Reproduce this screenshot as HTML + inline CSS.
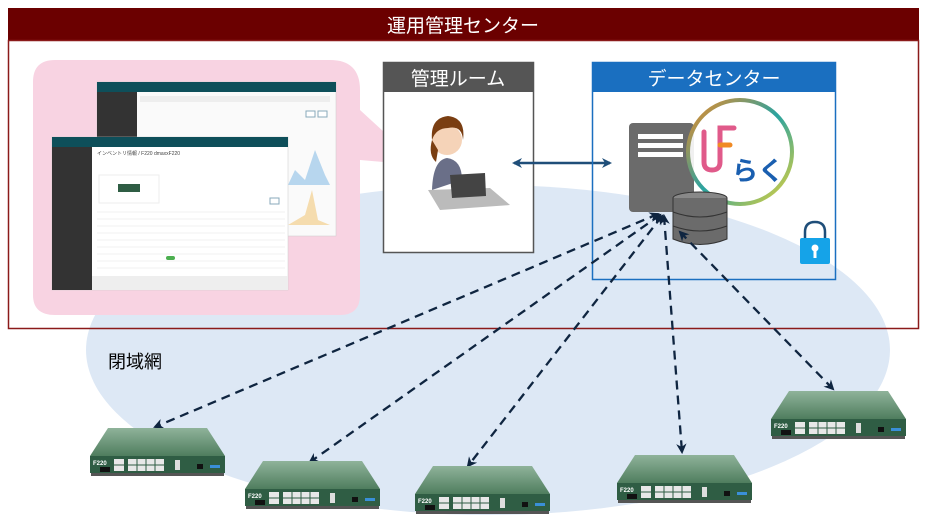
<!DOCTYPE html>
<html><head><meta charset="utf-8"><style>
html,body{margin:0;padding:0;background:#fff}
svg{display:block}
text{font-family:"Liberation Sans","Noto Sans CJK JP",sans-serif}
</style></head><body>
<svg width="930" height="527" viewBox="0 0 930 527" xmlns="http://www.w3.org/2000/svg">
<defs>
<marker id="ah" viewBox="0 0 10 10" refX="8" refY="5" markerWidth="4.5" markerHeight="4.5" orient="auto-start-reverse"><path d="M0,0 L10,5 L0,10 L3,5 z" fill="#0f2540"/></marker>
<marker id="ab" viewBox="0 0 10 10" refX="8" refY="5" markerWidth="4" markerHeight="4" orient="auto-start-reverse"><path d="M0,0 L10,5 L0,10 L3,5 z" fill="#1f4e79"/></marker>
<linearGradient id="rg" x1="0" y1="0" x2="0" y2="1"><stop offset="0" stop-color="#8fb39a"/><stop offset="1" stop-color="#4f7d5e"/></linearGradient>
<linearGradient id="ring" x1="0" y1="0" x2="1" y2="1"><stop offset="0" stop-color="#f08a24"/><stop offset="0.5" stop-color="#2aa3a0"/><stop offset="1" stop-color="#e6d23a"/></linearGradient>
<g id="router">
<polygon points="18,0 117,0 135,28 0,28" fill="url(#rg)"/>
<rect x="0" y="28" width="135" height="17" fill="#2f5d44"/>
<rect x="1" y="45" width="133" height="3" fill="#555"/>
<text x="3" y="37" font-size="6" fill="#fff" font-weight="bold">F220</text>
<rect x="24" y="31" width="10" height="12" fill="#e8e8e8"/>
<rect x="38" y="31" width="36" height="12" fill="#e8e8e8"/>
<g stroke="#2f5d44" stroke-width="1"><line x1="38" y1="37" x2="74" y2="37"/><line x1="47" y1="31" x2="47" y2="43"/><line x1="56" y1="31" x2="56" y2="43"/><line x1="65" y1="31" x2="65" y2="43"/><line x1="24" y1="37" x2="34" y2="37"/></g>
<rect x="10" y="39" width="10" height="5" fill="#111"/>
<rect x="85" y="32" width="5" height="10" fill="#ddd"/>
<rect x="107" y="36" width="6" height="5" fill="#111"/>
<rect x="120" y="37" width="10" height="3" fill="#3a8fd8"/>
</g>
</defs>
<ellipse cx="488" cy="350" rx="402" ry="165" fill="#dde8f5"/>
<rect x="8" y="8" width="911" height="32" fill="#6b0000"/>
<text x="463" y="32" font-size="19" fill="#fff" text-anchor="middle">運用管理センター</text>
<rect x="8.5" y="40.5" width="910" height="288" fill="none" stroke="#8b1a1a" stroke-width="1.5"/>
<path d="M55,60 H330 Q360,60 360,90 V110 L420,165 L360,160 V295 Q360,315 340,315 H55 Q33,315 33,295 V82 Q33,60 55,60 Z" fill="#f8d3e2"/>
<rect x="97" y="82" width="239" height="154" fill="#fafafa" stroke="#ccc" stroke-width="0.5"/>
<rect x="97" y="82" width="239" height="10" fill="#0e4f5a"/>
<rect x="97" y="92" width="40" height="90" fill="#333"/>
<rect x="140" y="96" width="190" height="6" fill="#eee"/>
<rect x="306" y="111" width="9" height="6" fill="#fff" stroke="#8ab"/><rect x="318" y="111" width="9" height="6" fill="#fff" stroke="#8ab"/>
<path d="M288,185 L295,170 L305,180 L315,150 L325,175 L330,185 Z" fill="#b7d6ee"/>
<path d="M288,225 L305,215 L312,190 L318,220 L330,225 Z" fill="#f5dcae"/>
<rect x="52" y="137" width="236" height="153" fill="#fff" stroke="#ccc" stroke-width="0.5"/>
<rect x="52" y="137" width="236" height="10" fill="#0e4f5a"/>
<rect x="52" y="147" width="40" height="143" fill="#333"/>
<rect x="92" y="276" width="196" height="14" fill="#eee"/>
<text x="97" y="155" font-size="5" fill="#444">インベントリ情報 / F220 dmaxxF220</text>
<rect x="99" y="175" width="60" height="28" fill="#fff" stroke="#eee"/>
<rect x="118" y="184" width="22" height="8" fill="#2f5d44"/>
<rect x="270" y="198" width="9" height="6" fill="#fff" stroke="#8ab"/>
<g stroke="#eee" stroke-width="0.7"><line x1="97" y1="212" x2="285" y2="212"/><line x1="97" y1="219" x2="285" y2="219"/><line x1="97" y1="226" x2="285" y2="226"/><line x1="97" y1="233" x2="285" y2="233"/><line x1="97" y1="240" x2="285" y2="240"/><line x1="97" y1="247" x2="285" y2="247"/><line x1="97" y1="254" x2="285" y2="254"/><line x1="97" y1="261" x2="285" y2="261"/><line x1="97" y1="268" x2="285" y2="268"/></g>
<rect x="166" y="256" width="9" height="4" rx="2" fill="#4caf50"/>
<rect x="383.5" y="62.5" width="150" height="190" fill="#fff" stroke="#555" stroke-width="1.5"/>
<rect x="383" y="62" width="151" height="30" fill="#555"/>
<text x="458" y="85" font-size="19" fill="#fff" text-anchor="middle">管理ルーム</text>
<circle cx="447" cy="140" r="15" fill="#f5d3b8"/>
<path d="M432,140 Q430,118 448,116 Q466,118 463,140 Q462,125 448,128 Q436,128 432,140 Z" fill="#7a3e12"/>
<path d="M432,140 Q428,155 436,162 L438,150 Z" fill="#7a3e12"/>
<path d="M432,190 Q433,160 447,158 Q462,160 462,180 Z" fill="#6a6f88"/>
<polygon points="428,190 490,188 510,205 440,210" fill="#bbb"/>
<polygon points="450,175 485,173 486,196 452,198" fill="#444"/>
<line x1="514" y1="163" x2="610" y2="163" stroke="#1f4e79" stroke-width="2.5" marker-start="url(#ab)" marker-end="url(#ab)"/>
<rect x="592.5" y="62.5" width="243" height="217" fill="none" stroke="#1a6fc0" stroke-width="1.5"/>
<rect x="592" y="62" width="244" height="30" fill="#1a6fc0"/>
<text x="714" y="85" font-size="19" fill="#fff" text-anchor="middle">データセンター</text>
<rect x="629" y="123" width="65" height="89" rx="4" fill="#6b6b6b"/>
<rect x="638" y="134" width="45" height="5" fill="#fff"/><rect x="638" y="143" width="45" height="5" fill="#fff"/><rect x="638" y="152" width="45" height="5" fill="#fff"/>
<circle cx="740" cy="152" r="52" fill="#fff" fill-opacity="0.9" stroke="url(#ring)" stroke-width="4"/>
<path d="M704,132 V162 Q704,170 712,170 Q720,170 720,162 V128 H734" fill="none" stroke="#e05a8a" stroke-width="5" stroke-linecap="round"/>
<path d="M720,145 H730" stroke="#f08a24" stroke-width="5" stroke-linecap="round"/>
<text x="732" y="180" font-size="26" fill="#1a5fb0" font-weight="bold">らく</text>
<ellipse cx="700" cy="198" rx="27" ry="6" fill="#888" stroke="#333"/>
<path d="M673,198 V239 Q700,250 727,239 V198" fill="#6b6b6b" stroke="#333"/>
<path d="M673,212 Q700,222 727,212 M673,226 Q700,236 727,226" fill="none" stroke="#333"/>
<path d="M805,238 V232 Q805,222 815,222 Q825,222 825,232 V238" fill="none" stroke="#1f4e79" stroke-width="2.5"/>
<rect x="800" y="238" width="30" height="26" rx="2" fill="#15a3e8"/>
<circle cx="815" cy="248" r="3.5" fill="#fff"/><rect x="813.5" y="249" width="3" height="9" fill="#fff"/>
<text x="108" y="368" font-size="18" fill="#000">閉域網</text>
<g stroke="#0f2540" stroke-width="2.3" stroke-dasharray="9,6" fill="none" marker-start="url(#ah)" marker-end="url(#ah)">
<line x1="658" y1="214" x2="155" y2="427"/>
<line x1="660" y1="215" x2="310" y2="462"/>
<line x1="662" y1="216" x2="468" y2="466"/>
<line x1="664" y1="216" x2="682" y2="452"/>
<line x1="680" y1="232" x2="833" y2="389"/>
</g>
<use href="#router" x="90" y="428"/>
<use href="#router" x="245" y="461"/>
<use href="#router" x="415" y="466"/>
<use href="#router" x="617" y="455"/>
<use href="#router" x="771" y="391"/>
</svg>
</body></html>
